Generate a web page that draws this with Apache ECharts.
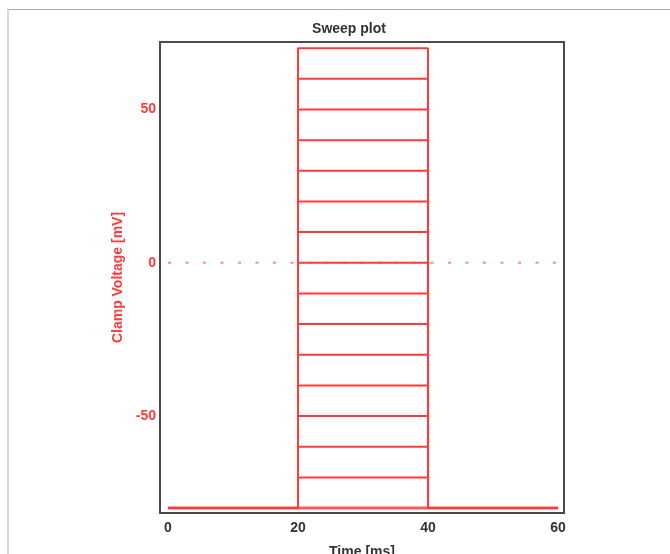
<!DOCTYPE html>
<html>
<head>
<meta charset="utf-8">
<script src="https://cdn.jsdelivr.net/npm/echarts@6/dist/echarts.min.js"></script>
<style>
html,body{margin:0;padding:0;background:#fff;}
#chart{width:670px;height:554px;}
</style>
</head>
<body>
<div id="chart"></div>
<script>
// Data
const sweepTimes = [0, 20, 20, 40, 40, 60];          // ms, protocol breakpoints
const holdingVoltage = -80;                            // mV
const stepVoltages = [-70, -60, -50, -40, -30, -20, -10, 0, 10, 20, 30, 40, 50, 60, 70]; // mV
const zeroLineTimes = [0, 60];
const timeTicks = [0, 20, 40, 60];
const voltageTicks = [-50, 0, 50];

const red = '#ff3a3a';
const font = 'Liberation Sans';

const series = [];
// zero reference dotted line
series.push({
  type: 'line',
  data: zeroLineTimes.map(t => [t, 0]),
  symbol: 'none',
  lineStyle: { color: '#ff8c8c', width: 2, type: [3, 14.5] },
  z: 1
});
// holding line
series.push({
  type: 'line',
  data: [[sweepTimes[0], holdingVoltage], [sweepTimes[sweepTimes.length - 1], holdingVoltage]],
  symbol: 'none',
  lineStyle: { color: '#ff5a5a', width: 3 },
  z: 2
});
stepVoltages.forEach(v => {
  const volts = [holdingVoltage, holdingVoltage, v, v, holdingVoltage, holdingVoltage];
  series.push({
    type: 'line',
    data: sweepTimes.map((t, i) => [t, volts[i]]),
    symbol: 'none',
    lineStyle: { color: red, width: 2 },
    z: 3
  });
});

const chart = echarts.init(document.getElementById('chart'), null, { renderer: 'canvas' });
chart.setOption({
  animation: false,
  backgroundColor: '#fff',
  title: {
    text: 'Sweep plot',
    left: 344, top: 17, textAlign: 'center',
    textStyle: { fontFamily: font, fontSize: 14, fontWeight: 'bold', color: '#333' }
  },
  graphic: [
    { type: 'line', shape: { x1: 7, y1: 9.5, x2: 670, y2: 9.5 }, style: { stroke: '#aaaaaa', lineWidth: 1 } },
    { type: 'line', shape: { x1: 8, y1: 9, x2: 8, y2: 554 }, style: { stroke: '#cccccc', lineWidth: 1.5 } }
  ],
  grid: {
    left: 160, right: 106, top: 42, bottom: 41,
    containLabel: false, outerBoundsMode: 'none',
    show: true, borderColor: '#4a4a4a', borderWidth: 2, backgroundColor: '#fff'
  },
  xAxis: {
    type: 'value', min: -1.23, max: 60.92,
    name: 'Time [ms]', nameLocation: 'middle', nameGap: 32,
    nameTextStyle: { fontFamily: font, fontSize: 14, fontWeight: 'bold', color: '#333' },
    axisLine: { show: false }, axisTick: { show: false }, splitLine: { show: false },
    axisLabel: {
      customValues: timeTicks, margin: 8,
      fontFamily: font, fontSize: 14, fontWeight: 'bold', color: '#333'
    }
  },
  yAxis: {
    type: 'value', min: -81.6, max: 72,
    name: 'Clamp Voltage [mV]', nameLocation: 'middle', nameGap: 33,
    nameTextStyle: { fontFamily: font, fontSize: 14, fontWeight: 'bold', color: red },
    axisLine: { show: false }, axisTick: { show: false }, splitLine: { show: false },
    axisLabel: {
      customValues: voltageTicks, margin: 4,
      fontFamily: font, fontSize: 14, fontWeight: 'bold', color: red
    }
  },
  series: series
});
</script>
</body>
</html>
